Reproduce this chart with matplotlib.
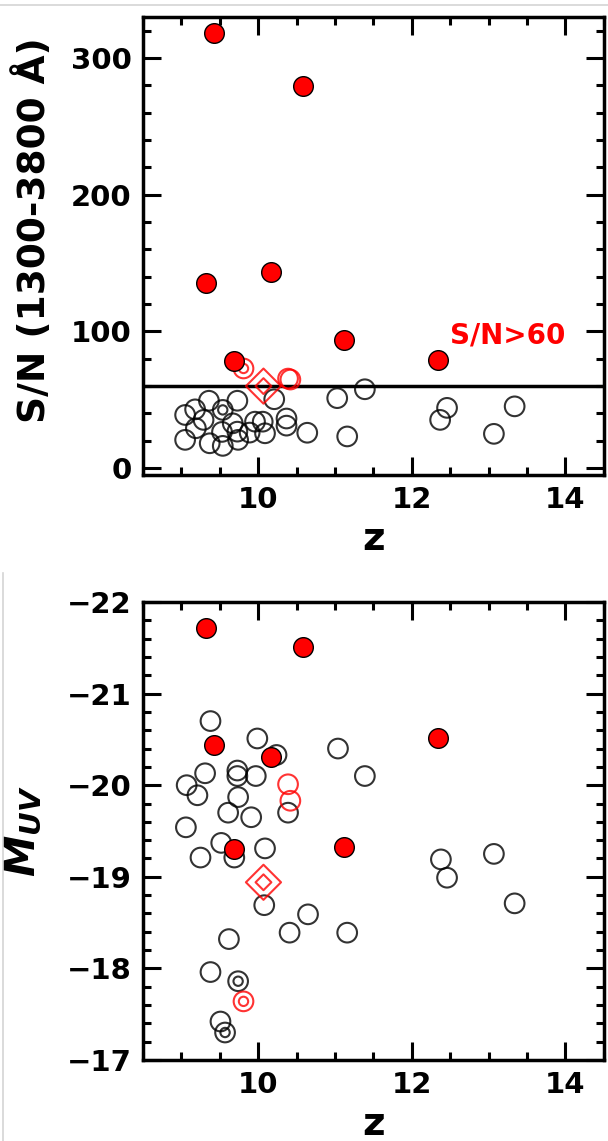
import matplotlib
matplotlib.use('Agg')
import matplotlib.pyplot as plt
from matplotlib.lines import Line2D
from matplotlib.ticker import MultipleLocator

plt.rcParams['font.family'] = ['DejaVu Sans']
plt.rcParams['font.weight'] = 'bold'
plt.rcParams['mathtext.fontset'] = 'custom'
plt.rcParams['mathtext.it'] = 'DejaVu Sans:italic:bold'
plt.rcParams['mathtext.rm'] = 'DejaVu Sans:bold'

# red filled: S/N > 60 (same galaxies in both panels)
z_red = [9.32, 9.43, 9.68, 10.17, 10.59, 11.12, 12.34]
sn_red = [135.6, 318.5, 78.1, 143.4, 279.3, 93.8, 79.1]
muv_red = [-21.72, -20.44, -19.30, -20.31, -21.51, -19.32, -20.51]

# red open circles
z_red_open = [10.39, 10.42]
sn_red_open = [65.5, 64.8]
muv_red_open = [-20.01, -19.83]

# red double circle and double diamond
z_red_dbl = [9.81]
sn_red_dbl = [72.9]
muv_red_dbl = [-17.64]
z_red_dia = [10.07]
sn_red_dia = [60.0]
muv_red_dia = [-18.94]

# black open circles, top panel
z_sn_open = [9.36, 9.73, 10.21, 9.18, 9.05, 9.29, 9.19, 9.67, 9.73, 9.96, 10.06,
             10.37, 10.37, 9.05, 9.37, 9.54, 9.74, 9.89, 10.09, 9.53, 10.64,
             11.03, 11.39, 11.16, 12.46, 12.37, 13.34, 13.07]
sn_open = [49.3, 49.3, 50.4, 43.0, 38.9, 35.3, 29.2, 32.8, 26.7, 34.0, 34.0,
           36.3, 31.1, 20.7, 18.2, 16.3, 20.7, 26.0, 25.5, 26.5, 25.9,
           51.2, 57.7, 23.2, 44.1, 35.3, 45.2, 25.1]
z_sn_dbl = [9.54]
sn_dbl = [42.6]

# black open circles, bottom panel
z_muv_open = [9.38, 9.99, 10.24, 11.04, 11.39, 9.07, 9.31, 9.21, 9.73, 9.73,
              9.97, 9.74, 9.61, 9.91, 10.39, 9.06, 9.52, 9.25, 9.69, 10.09,
              12.38, 12.46, 13.07, 13.34, 10.08, 10.65, 10.41, 11.16, 9.62,
              9.38, 9.51]
muv_open = [-20.70, -20.51, -20.33, -20.40, -20.10, -20.00, -20.13, -19.89,
            -20.16, -20.10, -20.10, -19.87, -19.70, -19.65, -19.70, -19.54,
            -19.37, -19.21, -19.21, -19.31, -19.19, -18.99, -19.25, -18.71,
            -18.69, -18.59, -18.39, -18.39, -18.32, -17.96, -17.42]
z_muv_dbl = [9.74, 9.57]
muv_dbl = [-17.86, -17.30]

sn_cut = 60

fig = plt.figure(figsize=(6.08, 11.41), dpi=100)
ax1 = fig.add_axes([0.235, 0.5837, 0.758, 0.4015])
ax2 = fig.add_axes([0.235, 0.0710, 0.758, 0.4014])

S_BIG = 200
S_SMALL = 45

def draw(ax, zo, yo, zd, yd, yr, yro, yrd, yrdia):
    ax.scatter(zo, yo, s=S_BIG, facecolors='none', edgecolors='k', linewidths=1.5, alpha=0.8, zorder=3)
    ax.scatter(zd, yd, s=S_BIG, facecolors='none', edgecolors='k', linewidths=1.5, alpha=0.8, zorder=3)
    ax.scatter(zd, yd, s=S_SMALL, facecolors='none', edgecolors='k', linewidths=1.5, alpha=0.8, zorder=3)
    ax.scatter(z_red_open, yro, s=S_BIG, facecolors='none', edgecolors='r', linewidths=1.5, alpha=0.8, zorder=4)
    ax.scatter(z_red_dbl, yrd, s=S_BIG, facecolors='none', edgecolors='r', linewidths=1.5, alpha=0.8, zorder=4)
    ax.scatter(z_red_dbl, yrd, s=S_SMALL, facecolors='none', edgecolors='r', linewidths=1.5, alpha=0.8, zorder=4)
    ax.scatter(z_red_dia, yrdia, s=320, marker='D', facecolors='none', edgecolors='r', linewidths=1.5, alpha=0.8, zorder=4)
    ax.scatter(z_red_dia, yrdia, s=65, marker='D', facecolors='none', edgecolors='r', linewidths=1.5, alpha=0.8, zorder=4)
    ax.scatter(z_red, yr, s=S_BIG, facecolors='red', edgecolors='k', linewidths=1.0, zorder=5)

    ax.set_xlim(8.5, 14.5)
    ax.xaxis.set_major_locator(MultipleLocator(2))
    ax.xaxis.set_minor_locator(MultipleLocator(0.5))
    ax.tick_params(which='both', direction='in', top=True, right=True, width=2.2,
                   labelsize=21, pad=8)
    ax.tick_params(which='major', length=13)
    ax.tick_params(which='minor', length=6)
    for sp in ax.spines.values():
        sp.set_linewidth(2.5)
    ax.set_xlabel('z', fontsize=28, fontweight='bold', labelpad=4)

draw(ax1, z_sn_open, sn_open, z_sn_dbl, sn_dbl, sn_red, sn_red_open, sn_red_dbl, sn_red_dia)
ax1.axhline(sn_cut, color='k', lw=2.5, zorder=2)
ax1.set_ylim(-5, 330)
ax1.yaxis.set_major_locator(MultipleLocator(100))
ax1.yaxis.set_minor_locator(MultipleLocator(20))
ax1.set_ylabel('S/N (1300-3800 Å)', fontsize=27, fontweight='bold')
ax1.yaxis.set_label_coords(-0.196, 0.535)
ax1.text(12.5, 97, 'S/N>60', color='red', fontsize=20, fontweight='bold', va='center', ha='left')

draw(ax2, z_muv_open, muv_open, z_muv_dbl, muv_dbl, muv_red, muv_red_open, muv_red_dbl, muv_red_dia)
ax2.set_ylim(-17, -22)
ax2.yaxis.set_major_locator(MultipleLocator(1))
ax2.yaxis.set_minor_locator(MultipleLocator(0.2))
ax2.set_ylabel(r'$M_{UV}$', fontsize=30)
ax2.yaxis.set_label_coords(-0.215, 0.5)

# thin grey borders of the original screenshot
fig.add_artist(Line2D([0, 1], [1 - 5 / 1141, 1 - 5 / 1141], color='#d4d4d4', lw=1.2))
fig.add_artist(Line2D([3 / 608, 3 / 608], [0, 1 - 573 / 1141], color='#d4d4d4', lw=1.2))

fig.savefig('out.png', dpi=100)
